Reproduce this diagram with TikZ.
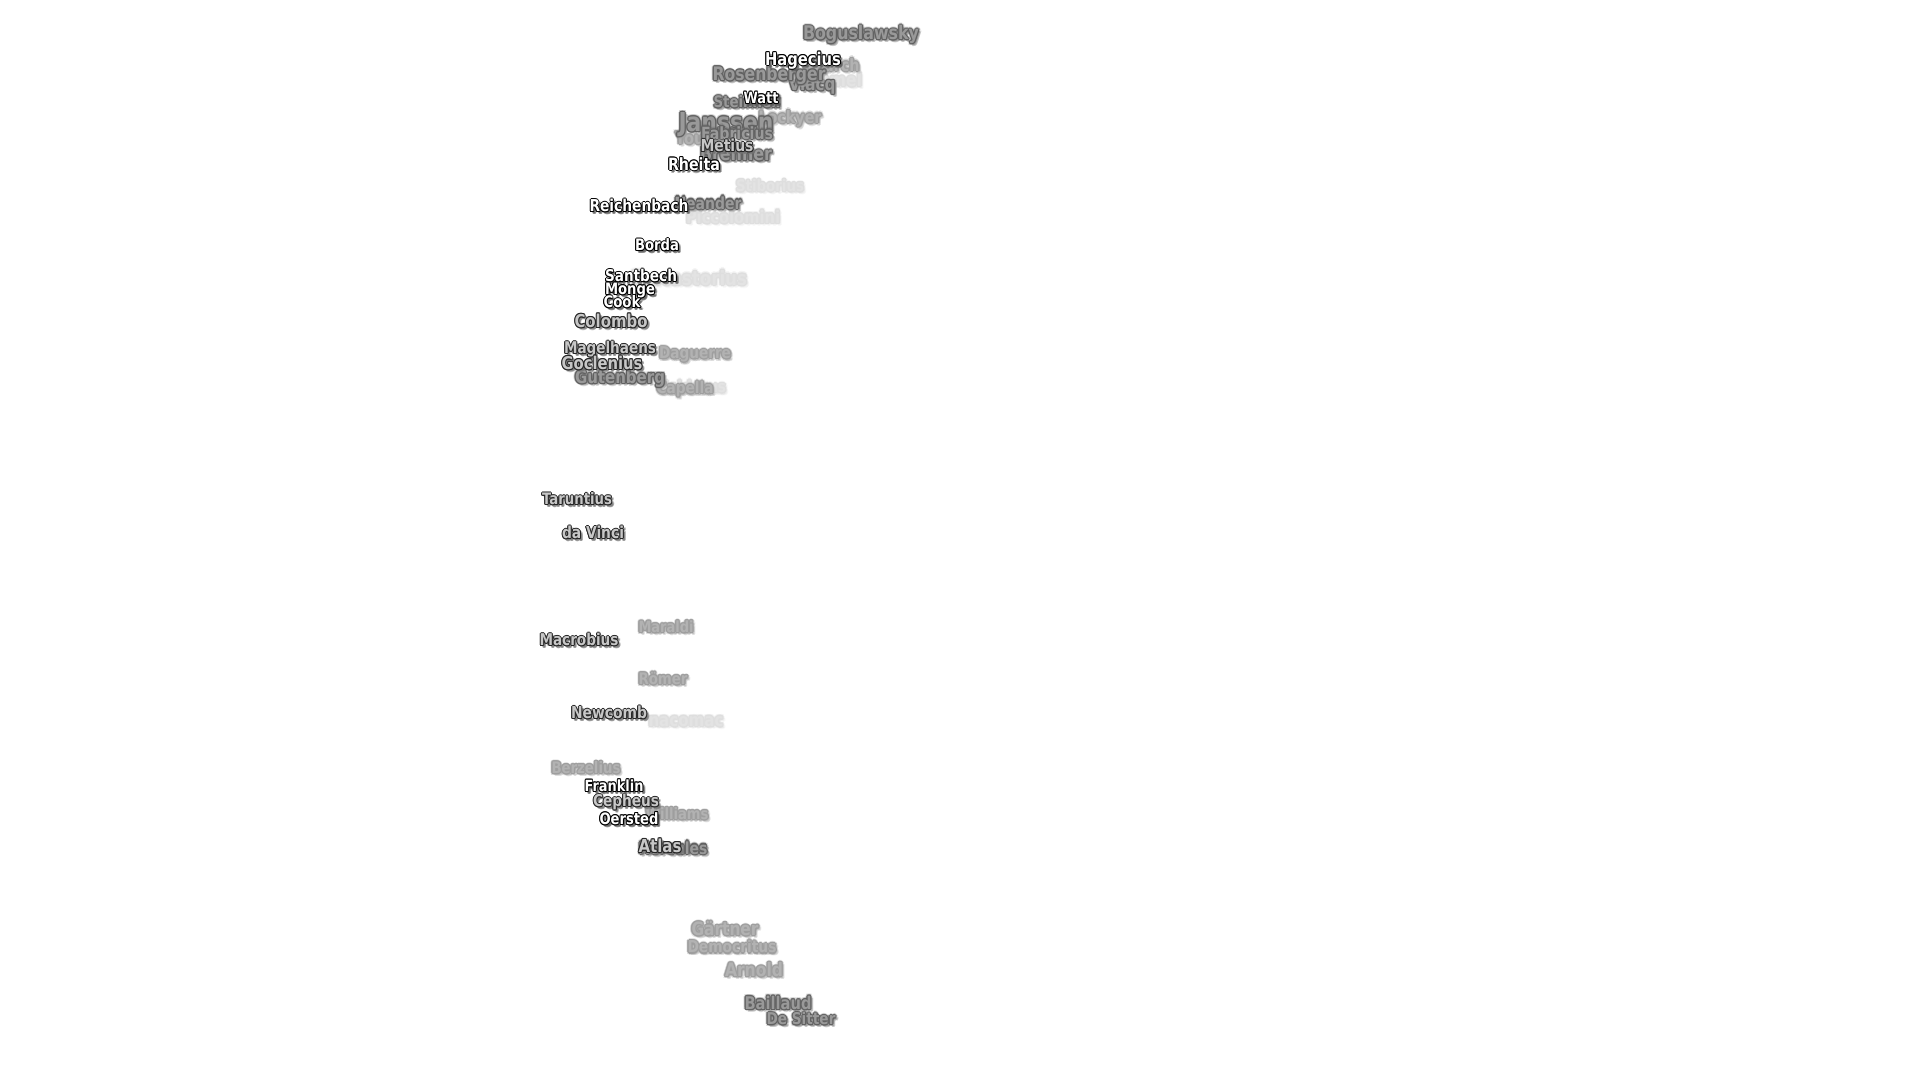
\documentclass[tikz,border=0pt]{standalone}
\usepackage{fontspec}
\newfontfamily\lblfont{DejaVu Sans}[FakeStretch=0.84]
\newlength\lblw
\tikzset{lbltext/.style={inner sep=0pt, anchor=base}}
\newcommand\lvlA{\def\lblF{white}\def\lblO{black}\def\lblS{black!65}\def\lblr{0.95}\def\lblh{0}\def\lblso{0.45}}
\newcommand\lvlB{\def\lblF{black!22}\def\lblO{black!85}\def\lblS{black!55}\def\lblr{1.0}\def\lblh{0}\def\lblso{0.45}}
\newcommand\lvlC{\def\lblF{black!40}\def\lblO{black!62}\def\lblS{black!35}\def\lblr{1.05}\def\lblh{0.25}\def\lblso{0.4}}
\newcommand\lvlD{\def\lblF{black!30}\def\lblO{black!38}\def\lblS{black!20}\def\lblr{1.1}\def\lblh{0.3}\def\lblso{0.4}}
\newcommand\lvlE{\def\lblF{black!11}\def\lblO{black!13}\def\lblS{black!6}\def\lblr{1.1}\def\lblh{0.3}\def\lblso{0.35}}
\newcommand\lbl[6]{%
  \pgfinterruptpicture
    \setbox0=\hbox{\lblfont\bfseries\fontsize{10}{12}\selectfont #6}%
    \global\lblw=\wd0
  \endpgfinterruptpicture
  \pgfmathsetmacro\lblfs{10*(#4-3)/\lblw}%
  \pgfmathsetmacro\lblby{#3+0.36*\lblfs}%
  \csname lvl#5\endcsname
  \pgfmathsetmacro\lblrd{0.7*\lblr}%
  \pgfmathsetmacro\lblR{2*\lblr}%
  \pgfmathsetmacro\lblRd{1.4*\lblr}%
  \tikzset{lblfontsty/.style={font=\lblfont\bfseries\fontsize{\lblfs}{\lblfs}\selectfont}}%
  \node[lbltext, lblfontsty, text=\lblS, opacity=\lblso] (#1-s1) at ({#2+1.5},{\lblby+1.5}) {#6};
  \node[lbltext, lblfontsty, text=\lblS, opacity=\lblso] (#1-s2) at ({#2+2.5},{\lblby+2.5}) {#6};
  \node[lbltext, lblfontsty, text=\lblS, opacity=\lblso] (#1-s3) at ({#2+2},{\lblby+3}) {#6};
  \node[lbltext, lblfontsty, text=\lblS, opacity=\lblso] (#1-s4) at ({#2+3},{\lblby+2}) {#6};
  \foreach \dx/\dy [count=\k] in {\lblR/0, -\lblR/0, 0/\lblR, 0/-\lblR, \lblRd/\lblRd, -\lblRd/\lblRd, \lblRd/-\lblRd, -\lblRd/-\lblRd}{%
    \node[lbltext, lblfontsty, text=\lblO, opacity=\lblh] (#1-h\k) at ({#2+\dx},{\lblby+\dy}) {#6};}
  \foreach \dx/\dy [count=\k] in {\lblr/0, -\lblr/0, 0/\lblr, 0/-\lblr, \lblrd/\lblrd, -\lblrd/\lblrd, \lblrd/-\lblrd, -\lblrd/-\lblrd}{%
    \node[lbltext, lblfontsty, text=\lblO] (#1-o\k) at ({#2+\dx},{\lblby+\dy}) {#6};}
  \node[lbltext, lblfontsty, text=\lblF] (#1) at (#2,\lblby) {#6};
}
\begin{document}
\begin{tikzpicture}[x=1pt,y=-1pt]
\fill[white] (0,0) rectangle (1920,1080);
\useasboundingbox (0,0) rectangle (1920,1080);
% far (very light)
\lbl{hommel}{826}{80}{75}{E}{Hommel}
\lbl{stiborius}{770}{186}{71}{E}{Stiborius}
\lbl{piccolomini}{733}{217}{97}{E}{Piccolomini}
\lbl{fracastorius}{689}{278}{119}{E}{Fracastorius}
\lbl{isidorus}{695}{387}{65}{E}{Isidorus}
\lbl{nacomac}{686}{720}{78}{E}{nacomac}
% light
\lbl{lockyer}{790}{117}{66}{D}{Lockyer}
\lbl{young}{700}{138}{53}{D}{Young}
\lbl{nearch}{831}{65}{60}{D}{Nearch}
\lbl{daguerre}{695}{353}{75}{D}{Daguerre}
\lbl{capella}{685}{388}{60}{D}{Capella}
\lbl{maraldi}{666}{627}{58}{D}{Maraldi}
\lbl{roemer}{663}{679}{52}{D}{Römer}
\lbl{berzelius}{586}{768}{72}{D}{Berzelius}
\lbl{williams}{677}{814}{66}{D}{Williams}
\lbl{gaertner}{725}{929}{70}{D}{Gärtner}
\lbl{democritus}{732}{947}{92}{D}{Democritus}
\lbl{arnold}{754}{970}{61}{D}{Arnold}
% medium
\lbl{boguslawsky}{861}{33}{119}{C}{Boguslawsky}
\lbl{vlacq}{812}{84}{50}{C}{Vlacq}
\lbl{rosenberger}{769}{74}{116}{C}{Rosenberger}
\lbl{steinheil}{747}{102}{70}{C}{Steinheil}
\lbl{janssen}{726}{122}{98}{C}{Janssen}
\lbl{fabricius}{737}{133}{75}{C}{Fabricius}
\lbl{brenner}{736}{154}{75}{C}{Brenner}
\lbl{neander}{708}{203}{70}{C}{Neander}
\lbl{gutenberg}{620}{377}{93}{C}{Gutenberg}
\lbl{hercules}{673}{848}{72}{C}{Hercules}
\lbl{baillaud}{778}{1003}{70}{C}{Baillaud}
\lbl{desitter}{801}{1019}{72}{C}{De Sitter}
% near
\lbl{metius}{727}{146}{56}{B}{Metius}
\lbl{colombo}{611}{321}{76}{B}{Colombo}
\lbl{magelhaens}{610}{348}{95}{B}{Magelhaens}
\lbl{goclenius}{602}{363}{84}{B}{Goclenius}
\lbl{taruntius}{577}{499}{73}{B}{Taruntius}
\lbl{davinci}{593}{533}{65}{B}{da Vinci}
\lbl{macrobius}{579}{640}{82}{B}{Macrobius}
\lbl{newcomb}{609}{713}{79}{B}{Newcomb}
\lbl{cepheus}{626}{801}{69}{B}{Cepheus}
\lbl{atlas}{660}{846}{46}{B}{Atlas}
% nearest (sharp)
\lbl{hagecius}{803}{59}{79}{A}{Hagecius}
\lbl{watt}{761}{98}{38}{A}{Watt}
\lbl{rheita}{694}{164}{55}{A}{Rheita}
\lbl{reichenbach}{639}{206}{102}{A}{Reichenbach}
\lbl{borda}{657}{245}{47}{A}{Borda}
\lbl{santbech}{641}{276}{75}{A}{Santbech}
\lbl{monge}{630}{289}{53}{A}{Monge}
\lbl{cook}{622}{302}{40}{A}{Cook}
\lbl{franklin}{614}{786}{62}{A}{Franklin}
\lbl{oersted}{629}{819}{62}{A}{Oersted}
\end{tikzpicture}
\end{document}
